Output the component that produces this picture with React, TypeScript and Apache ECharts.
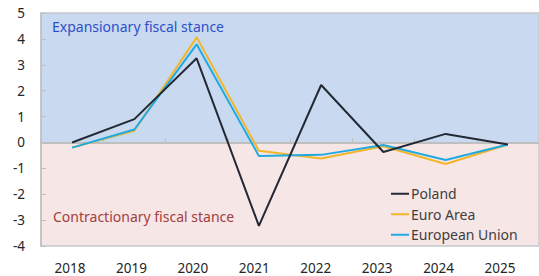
import React, { useEffect, useRef } from "react";
import * as echarts from "echarts";

const years = ["2018", "2019", "2020", "2021", "2022", "2023", "2024", "2025"];
const poland = [0.0, 0.9, 3.25, -3.22, 2.22, -0.37, 0.33, -0.08];
const euroArea = [-0.2, 0.45, 4.06, -0.32, -0.62, -0.15, -0.83, -0.08];
const europeanUnion = [-0.2, 0.5, 3.79, -0.52, -0.48, -0.1, -0.68, -0.08];
const yTicks = { min: -4, max: 5, interval: 1 };

const FONT = "Noto Sans";

export default function App() {
  const ref = useRef<HTMLDivElement>(null);
  useEffect(() => {
    document.body.style.margin = "0";
    const chart = echarts.init(ref.current!, null, { renderer: "svg" });
    chart.setOption({
      animation: false,
      backgroundColor: "#ffffff",
      textStyle: { fontFamily: FONT },
      grid: [
        { left: 41, top: 13, right: -10, bottom: 30, show: true, borderColor: "#C4C8CE", borderWidth: 1.5, backgroundColor: "transparent" },
        { left: 39.3, right: 8.3, top: 240, height: 7 },
      ],
      xAxis: [
        {
          type: "category",
          gridIndex: 0,
          data: years,
          boundaryGap: true,
          axisLine: { show: true, onZero: true, lineStyle: { color: "#BFBFBF", width: 2 } },
          axisTick: { show: true, inside: true, length: 4, lineStyle: { color: "#BFBFBF", width: 1 } },
          axisLabel: { show: false },
          splitLine: { show: false },
        },
        {
          type: "category",
          gridIndex: 1,
          data: years,
          boundaryGap: true,
          axisLine: { show: false },
          axisTick: { show: false },
          axisLabel: { show: true, margin: 14, fontSize: 13.5, color: "#262626", fontFamily: FONT },
        },
      ],
      yAxis: [
        {
          type: "value",
          gridIndex: 0,
          min: yTicks.min,
          max: yTicks.max,
          interval: yTicks.interval,
          axisLine: { show: true, lineStyle: { color: "#BFBFBF", width: 1.5 } },
          axisTick: { show: true, inside: true, length: 5, lineStyle: { color: "#BFBFBF" } },
          axisLabel: { margin: 16, fontSize: 13.5, color: "#262626", fontFamily: FONT },
          splitLine: { show: false },
        },
        { type: "value", gridIndex: 1, show: false },
      ],
      legend: {
        orient: "vertical",
        left: 391,
        top: 185,
        padding: 0,
        itemWidth: 18,
        itemHeight: 2,
        itemGap: 3,
        icon: "rect",
        textStyle: { fontSize: 14, color: "#404040", fontFamily: FONT, padding: [0, 0, 0, -3], lineHeight: 17.5 },
        data: ["Poland", "Euro Area", "European Union"],
      },
      graphic: [
        {
          type: "text",
          left: 52,
          top: 19,
          style: { text: "Expansionary fiscal stance", fill: "#2F4FC8", font: `14px '${FONT}'` },
          z: 10,
        },
        {
          type: "text",
          left: 53,
          top: 209,
          style: { text: "Contractionary fiscal stance", fill: "#A3403E", font: `14px '${FONT}'` },
          z: 10,
        },
      ],
      series: [
        {
          name: "Poland",
          type: "line",
          data: poland,
          symbol: "none",
          itemStyle: { color: "#222834" },
          lineStyle: { color: "#222834", width: 2 },
          z: 3,
          markArea: {
            silent: true,
            z: -1,
            data: [
              [{ yAxis: 0, itemStyle: { color: "#C9DAF0" } }, { yAxis: 5 }],
              [{ yAxis: -4, itemStyle: { color: "#F7E6E6" } }, { yAxis: 0 }],
            ],
          },
        },
        {
          name: "Euro Area",
          type: "line",
          data: euroArea,
          symbol: "none",
          itemStyle: { color: "#F3B52A" },
          lineStyle: { color: "#F3B52A", width: 2 },
          z: 2,
        },
        {
          name: "European Union",
          type: "line",
          data: europeanUnion,
          symbol: "none",
          itemStyle: { color: "#1FAAE2" },
          lineStyle: { color: "#1FAAE2", width: 2 },
          z: 2,
        },
      ],
    });
    return () => chart.dispose();
  }, []);
  return <div ref={ref} style={{ position: "fixed", left: 0, top: 0, width: 539, height: 276 }} />;
}
